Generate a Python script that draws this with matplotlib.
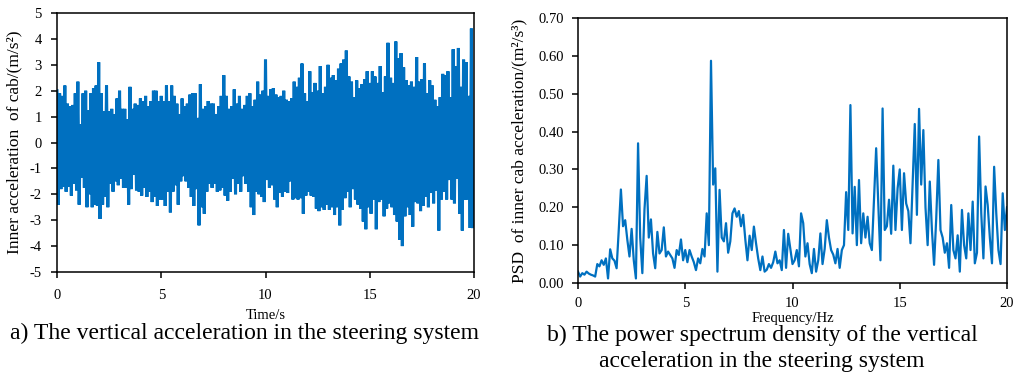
import numpy as np
import matplotlib
matplotlib.use("Agg")
import matplotlib.pyplot as plt
from matplotlib.ticker import FormatStrFormatter

# ---- data ----
# a) cab acceleration: peak values of each oscillation, one per 0.125 s (0 .. 19.875 s)
acc_upper = [
	2.0, 1.9, 1.8, 2.2, 1.5, 1.4, 1.45, 1.9,
	2.35, 0.7, 1.9, 2.0, 1.25, 1.9, 2.1, 2.2,
	3.1, 1.9, 1.2, 2.2, 1.2, 1.3, 1.1, 1.7,
	2.0, 1.3, 1.3, 0.9, 2.15, 1.3, 1.5, 1.45,
	1.7, 1.6, 1.8, 1.4, 1.6, 2.0, 2.0, 1.6,
	1.8, 1.6, 2.2, 1.6, 2.2, 1.8, 1.5, 1.1,
	1.7, 1.4, 1.5, 1.85, 1.9, 1.9, 0.95, 2.25,
	1.3, 1.4, 1.6, 1.5, 1.5, 1.1, 1.4, 1.8,
	2.6, 1.8, 1.3, 1.4, 2.05, 1.5, 1.8, 1.3,
	1.45, 1.8, 1.9, 1.4, 1.65, 2.35, 1.85, 2.0,
	3.2, 1.8, 2.05, 2.1, 1.85, 1.75, 1.8, 2.0,
	1.65, 1.6, 1.7, 2.35, 2.15, 2.5, 3.05, 1.9,
	1.6, 2.75, 1.95, 2.3, 2.0, 2.95, 1.9, 2.15,
	3.0, 2.5, 2.6, 2.4, 2.85, 3.05, 3.2, 3.55,
	2.55, 2.35, 1.75, 2.4, 2.1, 2.25, 2.45, 2.75,
	2.3, 2.75, 2.55, 2.3, 2.95, 1.95, 2.55, 3.85,
	2.5, 2.3, 3.9, 3.25, 3.45, 2.9, 2.4, 2.2,
	2.35, 2.15, 3.3, 2.35, 2.45, 3.05, 1.9, 2.4,
	2.2, 1.65, 1.4, 1.75, 2.65, 2.6, 2.75, 1.75,
	3.6, 2.95, 3.65, 2.15, 3.2, 3.1, 1.8, 4.4,
]
# troughs, half a step later than the peaks
acc_lower = [
	-2.4, -1.8, -1.7, -1.9, -1.7, -2.05, -1.6, -1.85,
	-2.4, -1.35, -1.75, -2.5, -2.0, -2.5, -2.4, -2.45,
	-2.95, -2.4, -2.1, -2.5, -1.6, -1.9, -1.5, -1.65,
	-1.4, -1.75, -1.75, -2.4, -1.8, -1.25, -1.85, -1.9,
	-2.05, -1.75, -2.1, -1.9, -2.3, -2.1, -2.45, -2.2,
	-2.2, -2.45, -1.9, -2.7, -1.9, -1.65, -2.4, -1.5,
	-1.3, -1.5, -1.75, -2.1, -2.45, -1.8, -3.2, -2.5,
	-2.75, -1.9, -1.6, -1.75, -1.6, -1.9, -1.85, -1.75,
	-2.05, -2.25, -1.9, -1.4, -2.0, -1.6, -1.9, -1.3,
	-1.6, -1.9, -2.5, -2.8, -1.9, -2.0, -2.1, -2.3,
	-1.45, -1.75, -1.65, -2.2, -2.5, -1.95, -2.1, -1.9,
	-1.95, -1.5, -2.2, -2.15, -2.2, -2.15, -2.75, -2.05,
	-1.9, -2.05, -2.1, -2.55, -2.65, -2.5, -2.6, -2.4,
	-2.6, -2.5, -2.8, -2.5, -3.2, -2.6, -2.15, -1.9,
	-2.5, -1.8, -2.2, -2.4, -2.55, -3.05, -3.35, -2.5,
	-2.75, -2.2, -3.35, -2.3, -2.2, -2.85, -2.55, -2.35,
	-2.5, -2.8, -3.05, -3.75, -4.0, -2.85, -2.5, -2.8,
	-3.25, -2.3, -2.35, -2.65, -2.45, -2.1, -2.5, -1.95,
	-2.35, -1.85, -3.4, -2.2, -1.9, -2.2, -1.45, -2.2,
	-2.35, -1.4, -2.75, -3.4, -2.2, -2.2, -3.3, -3.25,
]
acc_dt = 0.125

# b) PSD, one value per 0.1 Hz (0 .. 20 Hz)
psd = [
	0.030, 0.017, 0.026, 0.022, 0.030, 0.025, 0.022, 0.020, 0.017, 0.050,
	0.044, 0.060, 0.048, 0.065, 0.012, 0.089, 0.065, 0.059, 0.039, 0.140,
	0.247, 0.150, 0.166, 0.114, 0.070, 0.143, 0.060, 0.012, 0.369, 0.120,
	0.026, 0.195, 0.283, 0.120, 0.168, 0.078, 0.039, 0.135, 0.078, 0.087,
	0.147, 0.070, 0.083, 0.074, 0.065, 0.040, 0.087, 0.074, 0.115, 0.060,
	0.087, 0.055, 0.087, 0.070, 0.055, 0.034, 0.065, 0.052, 0.090, 0.070,
	0.184, 0.100, 0.587, 0.260, 0.303, 0.030, 0.246, 0.120, 0.110, 0.158,
	0.080, 0.110, 0.184, 0.197, 0.175, 0.190, 0.150, 0.180, 0.115, 0.060,
	0.125, 0.087, 0.149, 0.105, 0.065, 0.034, 0.070, 0.030, 0.035, 0.050,
	0.040, 0.055, 0.083, 0.052, 0.060, 0.034, 0.140, 0.040, 0.130, 0.090,
	0.050, 0.060, 0.087, 0.044, 0.184, 0.158, 0.070, 0.105, 0.050, 0.026,
	0.090, 0.030, 0.060, 0.131, 0.050, 0.090, 0.166, 0.120, 0.087, 0.075,
	0.052, 0.090, 0.040, 0.087, 0.100, 0.240, 0.140, 0.470, 0.131, 0.254,
	0.100, 0.272, 0.105, 0.184, 0.120, 0.175, 0.105, 0.087, 0.220, 0.356,
	0.210, 0.060, 0.461, 0.140, 0.150, 0.220, 0.130, 0.310, 0.140, 0.250,
	0.300, 0.140, 0.290, 0.210, 0.190, 0.105, 0.260, 0.420, 0.180, 0.460,
	0.260, 0.404, 0.200, 0.100, 0.268, 0.140, 0.048, 0.170, 0.325, 0.140,
	0.120, 0.080, 0.105, 0.040, 0.206, 0.087, 0.065, 0.126, 0.030, 0.193,
	0.100, 0.065, 0.184, 0.087, 0.215, 0.052, 0.080, 0.387, 0.184, 0.065,
	0.255, 0.206, 0.120, 0.052, 0.307, 0.184, 0.087, 0.050, 0.237, 0.140,
	0.200,
]
psd_df = 0.1

x_ticks = [0, 5, 10, 15, 20]
acc_ticks = list(range(-5, 6))
psd_ticks = [0.0, 0.1, 0.2, 0.3, 0.4, 0.5, 0.6, 0.7]

BLUE = '#0070C0'
plt.rcParams['font.family'] = ['Liberation Serif', 'DejaVu Serif']
plt.rcParams['font.size'] = 10
plt.rcParams['axes.unicode_minus'] = False

fig = plt.figure(figsize=(10.21, 3.83), dpi=100)
W, H = 1021, 383

def px_axes(l, t, r, b):
	return fig.add_axes([l / W, 1 - b / H, (r - l) / W, (b - t) / H])

def style(ax, xpad, ypad):
	for s in ax.spines.values():
		s.set_linewidth(1.1)
	ax.tick_params(direction='out', length=4, width=1.1, top=False, right=False,
				   labelsize=10.5)
	ax.tick_params(axis='x', pad=xpad)
	ax.tick_params(axis='y', pad=ypad)

# --- a) time history ---
ax1 = px_axes(57, 13, 474, 272)
t_up = np.arange(len(acc_upper)) * acc_dt
t_lo = t_up + acc_dt / 2
t = np.empty(2 * len(t_up))
y = np.empty(2 * len(t_up))
t[0::2], t[1::2] = t_up, t_lo
y[0::2], y[1::2] = acc_upper, acc_lower
ax1.plot(t, y, color=BLUE, lw=2.2, solid_joinstyle='miter')
ax1.set_xlim(0, 20)
ax1.set_ylim(-5, 5)
ax1.set_xticks(x_ticks)
ax1.set_yticks(acc_ticks)
style(ax1, 8, 7)
ax1.set_xlabel('Time/s', va='top', fontsize=10.5)
ax1.xaxis.set_label_coords(0.5, -0.143)
ax1.set_ylabel('Inner acceleration  of cab/(m/s²)', fontsize=12.5)
ax1.yaxis.set_label_coords(-0.082, 0.5)

# --- b) PSD ---
ax2 = px_axes(578, 18, 1007, 283)
f = np.arange(len(psd)) * psd_df
ax2.plot(f, psd, color=BLUE, lw=1.6)
ax2.set_xlim(0, 20)
ax2.set_ylim(0, 0.70)
ax2.set_xticks(x_ticks)
ax2.set_yticks(psd_ticks)
ax2.yaxis.set_major_formatter(FormatStrFormatter('%.2f'))
style(ax2, 6, 6)
ax2.set_xlabel('Frequency/Hz', va='top', fontsize=10.5)
ax2.xaxis.set_label_coords(0.5, -0.11)
ax2.set_ylabel('PSD  of inner cab acceleration/(m²/s³)', fontsize=12.5)
ax2.yaxis.set_label_coords(-0.117, 0.5)

# captions
fig.text(244 / W, 1 - 339 / H, 'a) The vertical acceleration in the steering system',
		 ha='center', va='baseline', fontsize=17)
fig.text(762 / W, 1 - 341 / H, 'b) The power spectrum density of the vertical',
		 ha='center', va='baseline', fontsize=17)
fig.text(762 / W, 1 - 367 / H, 'acceleration in the steering system',
		 ha='center', va='baseline', fontsize=17)

fig.savefig('out.png', dpi=100)
